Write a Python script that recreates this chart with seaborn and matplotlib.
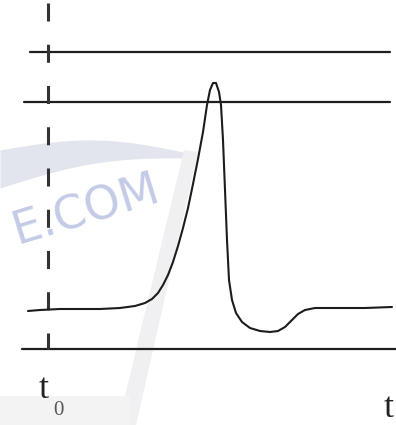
import numpy as np
import pandas as pd
import matplotlib
matplotlib.use("Agg")
import matplotlib.pyplot as plt
import seaborn as sns

# Pulse curve (pixel-like units, y grows downward)
curve_x = [28, 40, 60, 80, 100, 120, 135, 145, 152, 158, 163, 168, 173, 178,
           183, 188, 193, 198, 203, 207, 210, 213, 216, 219, 221, 223, 225,
           227, 229, 232, 236, 242, 250, 260, 270, 278, 285, 292, 298, 305,
           315, 340, 365, 392]
curve_y = [311, 310, 309, 309, 309, 308, 306, 303, 299, 293, 285, 275, 262, 246,
           228, 208, 184, 159, 132, 105, 90, 83, 83, 92, 105, 140, 190,
           240, 280, 300, 313, 322, 328, 331, 332, 331, 327, 320, 314, 310,
           308, 308, 308, 307]

# Horizontal reference lines: level, start, end
hline_y = [52, 102, 349]
hline_x0 = [30, 24, 22]
hline_x1 = [390, 390, 396]

# Dashed marker line at t0
t0_x = 48
t0_y = [3, 349]

labels = ["t", "0", "t"]
watermark = "E.COM"

sns.set_theme(style="white")
plt.rcParams["font.family"] = ["Liberation Serif", "DejaVu Serif"]

fig = plt.figure(figsize=(3.96, 4.25), dpi=100)
ax = fig.add_axes([0, 0, 1, 1])
ax.set_xlim(0, 396)
ax.set_ylim(425, 0)
ax.axis("off")

# faint watermark shapes
arc_t = np.linspace(0, 1, 60)
arc_x = arc_t * 192
upper = 150 - 12 * np.sin(arc_t * np.pi) + 4 * arc_t
lower = 188 - 30 * arc_t - 10 * np.sin(arc_t * np.pi)
ax.fill_between(arc_x, upper, lower, color="#e3e5ee", lw=0, zorder=0)
ax.fill([184, 198, 136, 118], [150, 152, 425, 425], color="#f0f0f3", lw=0, zorder=0)
ax.fill([0, 130, 130, 0], [396, 396, 425, 425], color="#f3f3f3", lw=0, zorder=0)
ax.text(86, 210, watermark, color="#c3cbe6", fontsize=33, rotation=17,
        ha="center", va="center", family=["DejaVu Sans"], zorder=1)

df = pd.DataFrame({"x": curve_x, "y": curve_y})
sns.lineplot(data=df, x="x", y="y", ax=ax, color="#1c1c1c", lw=1.5,
             sort=False, estimator=None, zorder=3)

for y, x0, x1 in zip(hline_y, hline_x0, hline_x1):
    ax.plot([x0, x1], [y, y], color="#1e1e1e", lw=1.6, zorder=2)

ax.plot([t0_x, t0_x], t0_y, color="#333333", lw=2.2, dashes=(5.9, 7.6), zorder=2)

ax.text(44, 398, labels[0], fontsize=26, ha="center", va="baseline", color="#222222")
ax.text(58, 415, labels[1], fontsize=15, ha="center", va="baseline", color="#555555")
ax.text(389, 417, labels[2], fontsize=26, ha="center", va="baseline", color="#222222")

fig.savefig("out.png", dpi=100)
